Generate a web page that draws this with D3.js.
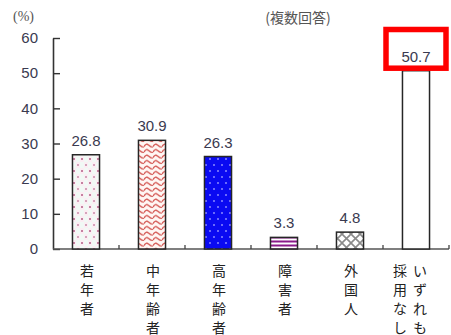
<!DOCTYPE html>
<html>
<head>
<meta charset="utf-8">
<script src="https://cdn.jsdelivr.net/npm/d3@7"></script>
<style>
  html, body { margin: 0; padding: 0; background: #fff; }
  svg { display: block; }
</style>
</head>
<body>
<script>
// Hiring by worker group (multiple answers), percent
const categories = ["若年者", "中年齢者", "高年齢者", "障害者", "外国人", "いずれも採用なし"];
// Vertical label columns (read right to left)
const labelColumns = [["若年者"], ["中年齢者"], ["高年齢者"], ["障害者"], ["外国人"], ["いずれも", "採用なし"]];
const values = [26.8, 30.9, 26.3, 3.3, 4.8, 50.7];
const yTicks = [0, 10, 20, 30, 40, 50, 60];
const unitLabel = "(%)";
const noteLabel = "(複数回答)";
const highlighted = "いずれも採用なし";

const W = 451, H = 335;
const svg = d3.select("body").append("svg").attr("width", W).attr("height", H);

const x = d3.scaleBand().domain(categories).range([53, 449]).paddingInner(0.59).paddingOuter(0.295);
const y = d3.scaleLinear().domain([0, 60]).range([249, 38]);

// ---- fill patterns ----
const defs = svg.append("defs");

// light dotted
const p1 = defs.append("pattern").attr("id", "pDots").attr("patternUnits", "userSpaceOnUse")
  .attr("width", 8).attr("height", 12);
p1.append("rect").attr("width", 8).attr("height", 12).attr("fill", "#f1f9f5");
p1.append("rect").attr("x", 0).attr("y", 0).attr("width", 4).attr("height", 6).attr("fill", "#fbeef3");
p1.append("rect").attr("x", 4).attr("y", 6).attr("width", 4).attr("height", 6).attr("fill", "#fbeef3");
p1.append("circle").attr("cx", 2).attr("cy", 3).attr("r", 1).attr("fill", "#b35d86");
p1.append("circle").attr("cx", 6).attr("cy", 9).attr("r", 1).attr("fill", "#c98aa8");

// red waves
const p2 = defs.append("pattern").attr("id", "pWave").attr("patternUnits", "userSpaceOnUse")
  .attr("width", 9).attr("height", 5.5);
p2.append("rect").attr("width", 9).attr("height", 5.5).attr("fill", "#fff7f4");
p2.append("path").attr("d", "M0,3.6 C1.5,1 3,0.6 4.5,2 S7.5,4.9 9,3.6").attr("fill", "none")
  .attr("stroke", "#d2524e").attr("stroke-width", 1.3);

// blue with dots
const p3 = defs.append("pattern").attr("id", "pBlue").attr("patternUnits", "userSpaceOnUse")
  .attr("width", 8).attr("height", 12);
p3.append("rect").attr("width", 8).attr("height", 12).attr("fill", "#0a0af2");
p3.append("circle").attr("cx", 2).attr("cy", 3).attr("r", 1).attr("fill", "#8a8aff");
p3.append("circle").attr("cx", 6).attr("cy", 9).attr("r", 1).attr("fill", "#8a8aff");

// purple stripes
const p4 = defs.append("pattern").attr("id", "pStripe").attr("patternUnits", "userSpaceOnUse")
  .attr("width", 4).attr("height", 4).attr("y", 0.5);
p4.append("rect").attr("width", 4).attr("height", 4).attr("fill", "#ffffff");
p4.append("rect").attr("y", 0).attr("width", 4).attr("height", 2).attr("fill", "#8a1a8a");

// grey cross hatch
const p5 = defs.append("pattern").attr("id", "pCross").attr("patternUnits", "userSpaceOnUse")
  .attr("width", 9).attr("height", 9);
p5.append("rect").attr("width", 9).attr("height", 9).attr("fill", "#ffffff");
p5.append("path").attr("d", "M0,0 L9,9 M9,0 L0,9").attr("stroke", "#8a8a8a").attr("stroke-width", 1.6);

const fills = ["url(#pDots)", "url(#pWave)", "url(#pBlue)", "url(#pStripe)", "url(#pCross)", "#ffffff"];

// ---- y axis ----
const yAxis = d3.axisLeft(y).tickValues(yTicks).tickSizeInner(-7).tickSizeOuter(0).tickPadding(15);
const gy = svg.append("g").attr("transform", "translate(53,0)").call(yAxis);
gy.select(".domain").attr("stroke", "#333").attr("stroke-width", 1.6);
gy.selectAll(".tick line").attr("stroke", "#333").attr("stroke-width", 1.4);
gy.selectAll(".tick text").attr("fill", "#3a3a50").style("font-family", "'Liberation Sans', Arial, sans-serif")
  .style("font-size", "15px");

// ---- baseline and category separators ----
svg.append("line").attr("x1", 53).attr("x2", 449).attr("y1", y(0)).attr("y2", y(0))
  .attr("stroke", "#555").attr("stroke-width", 1.4);
const step = x.step();
svg.selectAll(".sep").data(categories).enter().append("line")
  .attr("x1", d => x(d) + x.bandwidth() / 2 + step / 2)
  .attr("x2", d => x(d) + x.bandwidth() / 2 + step / 2)
  .attr("y1", y(0)).attr("y2", y(0) - 4)
  .attr("stroke", "#444").attr("stroke-width", 1.3);

// ---- bars ----
svg.selectAll(".bar").data(values).enter().append("rect")
  .attr("x", (d, i) => x(categories[i]))
  .attr("y", d => y(d))
  .attr("width", x.bandwidth())
  .attr("height", d => y(0) - y(d))
  .attr("fill", (d, i) => fills[i])
  .attr("stroke", "#262626").attr("stroke-width", 1.5);

// ---- value labels ----
svg.selectAll(".val").data(values).enter().append("text")
  .attr("x", (d, i) => x(categories[i]) + x.bandwidth() / 2)
  .attr("y", d => y(d) - 9)
  .attr("text-anchor", "middle")
  .attr("fill", "#3a3a50")
  .style("font-family", "'Liberation Sans', Arial, sans-serif")
  .style("font-size", "15px")
  .text(d => d.toFixed(1));

// ---- highlight box on the last category ----
const hi = categories.indexOf(highlighted);
const hx = x(highlighted) + x.bandwidth() / 2;
svg.append("rect")
  .attr("x", hx - 30).attr("y", 29.5)
  .attr("width", 60).attr("height", y(values[hi]) - 2.5 - 29.5)
  .attr("fill", "none").attr("stroke", "#ff0000").attr("stroke-width", 5.5);

// ---- vertical category labels ----
const colGap = 20, lineGap = 19;
categories.forEach((c, i) => {
  const cols = labelColumns[i];
  const cx = x(c) + x.bandwidth() / 2 + (cols.length > 1 ? -6 : 1);
  cols.forEach((col, j) => {
    const colX = cx + (cols.length - 1 - j) * colGap - (cols.length - 1) * colGap / 2;
    Array.from(col).forEach((ch, k) => {
      svg.append("text")
        .attr("x", colX).attr("y", 276 + k * lineGap)
        .attr("text-anchor", "middle")
        .attr("fill", "#222")
        .style("font-family", "'Noto Sans CJK JP', sans-serif")
        .style("font-size", "14px")
        .text(ch);
    });
  });
});

// ---- unit and note ----
svg.append("text").attr("x", 13).attr("y", 21)
  .attr("fill", "#555").style("font-family", "'Liberation Serif', serif").style("font-size", "14px")
  .text(unitLabel);
svg.append("text").attr("x", 298).attr("y", 23).attr("text-anchor", "middle")
  .attr("fill", "#555").style("font-family", "'Noto Sans CJK JP', sans-serif").style("font-size", "14px")
  .text(noteLabel);
</script>
</body>
</html>
